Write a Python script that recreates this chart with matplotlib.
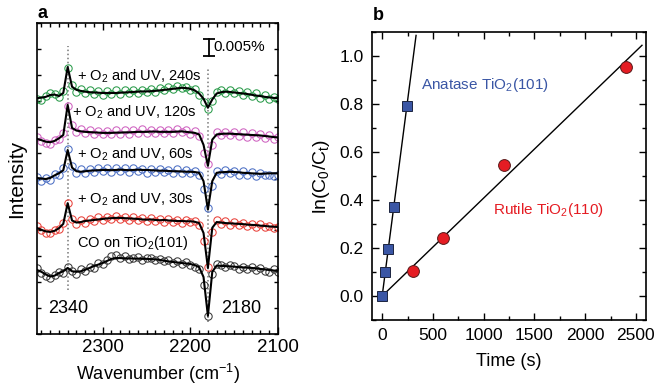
import numpy as np
import matplotlib
matplotlib.use('Agg')
import matplotlib.pyplot as plt
from matplotlib.ticker import MultipleLocator

plt.rcParams['font.family'] = ['Liberation Sans', 'DejaVu Sans']
plt.rcParams['mathtext.fontset'] = 'custom'
plt.rcParams['mathtext.rm'] = 'Liberation Sans'
plt.rcParams['mathtext.it'] = 'Liberation Sans'

# ---- panel a: IR spectra (offset, arbitrary units) ----
wavenumber = list(range(2375, 2099, -5))

co_fit = [2.47, 2.40, 2.30, 2.22, 2.25, 2.35, 2.42, 2.55, 2.42, 2.40, 2.42, 2.48, 2.55, 2.62,
          2.68, 2.74, 2.82, 2.90, 2.93, 2.93, 2.92, 2.92, 2.91, 2.91, 2.90, 2.90, 2.89, 2.88,
          2.86, 2.83, 2.80, 2.78, 2.76, 2.74, 2.72, 2.70, 2.66, 2.58, 2.20, 0.70, 2.40, 2.64,
          2.63, 2.62, 2.61, 2.60, 2.58, 2.57, 2.56, 2.55, 2.53, 2.51, 2.49, 2.47, 2.45, 2.43]
co_data = [2.55, 2.35, 2.25, 2.15, 2.28, 2.40, 2.35, 2.60, 2.45, 2.32, 2.50, 2.42, 2.60, 2.55,
           2.75, 2.70, 2.86, 3.02, 3.05, 2.95, 3.00, 2.88, 2.95, 2.98, 2.85, 2.95, 2.92, 2.84,
           2.90, 2.80, 2.86, 2.74, 2.80, 2.70, 2.76, 2.66, 2.60, 2.50, 1.90, 0.70, 2.30, 2.70,
           2.66, 2.58, 2.68, 2.62, 2.52, 2.60, 2.50, 2.58, 2.48, 2.55, 2.45, 2.40, 2.50, 2.38]

uv30_fit = [4.09, 4.02, 3.96, 3.94, 3.98, 4.08, 4.25, 5.05, 4.38, 4.30, 4.32, 4.36, 4.38, 4.40,
            4.42, 4.44, 4.46, 4.47, 4.48, 4.48, 4.47, 4.46, 4.45, 4.44, 4.42, 4.41, 4.42, 4.40,
            4.39, 4.40, 4.38, 4.37, 4.36, 4.36, 4.35, 4.35, 4.33, 4.28, 3.90, 2.55, 4.10, 4.32,
            4.30, 4.28, 4.27, 4.26, 4.25, 4.24, 4.22, 4.21, 4.20, 4.18, 4.17, 4.15, 4.14, 4.13]
uv30_data = [4.15, 4.00, 3.90, 3.88, 4.02, 4.05, 4.30, 5.05, 4.45, 4.25, 4.38, 4.30, 4.45, 4.35,
             4.50, 4.40, 4.52, 4.44, 4.55, 4.45, 4.52, 4.40, 4.50, 4.38, 4.48, 4.36, 4.47, 4.35,
             4.44, 4.34, 4.42, 4.32, 4.40, 4.30, 4.38, 4.32, 4.36, 4.22, 3.60, 2.60, 3.95, 4.38,
             4.25, 4.35, 4.22, 4.32, 4.20, 4.30, 4.18, 4.26, 4.14, 4.24, 4.12, 4.18, 4.08, 4.12]

uv60_fit = [6.02, 6.00, 5.98, 6.02, 6.12, 6.20, 6.32, 7.10, 6.42, 6.28, 6.26, 6.28, 6.30, 6.31,
            6.32, 6.33, 6.33, 6.32, 6.33, 6.34, 6.33, 6.32, 6.33, 6.34, 6.33, 6.33, 6.32, 6.31,
            6.30, 6.30, 6.29, 6.28, 6.28, 6.27, 6.26, 6.26, 6.25, 6.22, 5.90, 4.80, 5.90, 6.22,
            6.24, 6.25, 6.26, 6.25, 6.24, 6.22, 6.21, 6.20, 6.19, 6.18, 6.19, 6.20, 6.20, 6.20]
uv60_data = [6.05, 5.92, 6.02, 5.95, 6.18, 6.15, 6.40, 7.12, 6.50, 6.22, 6.35, 6.20, 6.38, 6.25,
             6.40, 6.28, 6.42, 6.25, 6.40, 6.28, 6.42, 6.24, 6.40, 6.28, 6.38, 6.22, 6.36, 6.25,
             6.38, 6.24, 6.34, 6.20, 6.35, 6.22, 6.32, 6.20, 6.30, 6.15, 5.60, 4.85, 5.70, 6.30,
             6.18, 6.32, 6.20, 6.30, 6.14, 6.28, 6.12, 6.26, 6.10, 6.22, 6.12, 6.15, 6.08, 6.15]

uv120_fit = [7.53, 7.48, 7.42, 7.40, 7.45, 7.55, 7.68, 8.84, 7.95, 7.85, 7.82, 7.80, 7.79, 7.78,
             7.77, 7.76, 7.76, 7.76, 7.77, 7.77, 7.78, 7.78, 7.79, 7.80, 7.80, 7.80, 7.81, 7.81,
             7.80, 7.80, 7.80, 7.80, 7.81, 7.82, 7.80, 7.78, 7.76, 7.70, 7.30, 6.49, 7.50, 7.70,
             7.72, 7.73, 7.73, 7.72, 7.71, 7.70, 7.69, 7.68, 7.67, 7.66, 7.64, 7.62, 7.60, 7.58]
uv120_data = [7.60, 7.45, 7.38, 7.35, 7.50, 7.52, 7.75, 8.80, 8.05, 7.80, 7.90, 7.75, 7.88, 7.72,
              7.85, 7.70, 7.84, 7.70, 7.86, 7.72, 7.88, 7.72, 7.86, 7.74, 7.90, 7.74, 7.88, 7.76,
              7.88, 7.74, 7.86, 7.76, 7.90, 7.78, 7.86, 7.72, 7.82, 7.65, 7.00, 6.55, 7.30, 7.78,
              7.66, 7.80, 7.68, 7.80, 7.65, 7.78, 7.62, 7.76, 7.60, 7.72, 7.56, 7.66, 7.52, 7.60]

uv240_fit = [9.10, 9.12, 9.15, 9.22, 9.24, 9.18, 9.30, 10.30, 9.54, 9.42, 9.38, 9.35, 9.33, 9.32,
             9.31, 9.30, 9.30, 9.30, 9.30, 9.31, 9.32, 9.33, 9.34, 9.35, 9.36, 9.36, 9.37, 9.38,
             9.40, 9.42, 9.44, 9.46, 9.48, 9.50, 9.49, 9.46, 9.40, 9.28, 9.08, 8.73, 9.05, 9.28,
             9.33, 9.35, 9.34, 9.32, 9.30, 9.28, 9.26, 9.23, 9.20, 9.18, 9.15, 9.13, 9.11, 9.10]
uv240_data = [9.05, 9.02, 9.20, 9.30, 9.26, 9.15, 9.38, 10.25, 9.62, 9.35, 9.45, 9.28, 9.40, 9.25,
              9.38, 9.24, 9.38, 9.26, 9.40, 9.25, 9.40, 9.28, 9.42, 9.30, 9.42, 9.32, 9.44, 9.35,
              9.48, 9.40, 9.52, 9.45, 9.56, 9.48, 9.52, 9.42, 9.45, 9.22, 8.95, 8.70, 8.98, 9.32,
              9.40, 9.30, 9.42, 9.28, 9.38, 9.22, 9.35, 9.18, 9.30, 9.12, 9.22, 9.06, 9.15, 9.05]

spectra = [
    (co_data, co_fit, '#3a3a3a', 'CO on TiO$_2$(101)', 2329, 3.5),
    (uv30_data, uv30_fit, '#e8413a', '+ O$_2$ and UV, 30s', 2329, 5.2),
    (uv60_data, uv60_fit, '#4c6fc4', '+ O$_2$ and UV, 60s', 2329, 6.95),
    (uv120_data, uv120_fit, '#cf62c0', '+ O$_2$ and UV, 120s', 2335, 8.55),
    (uv240_data, uv240_fit, '#2a9b4a', '+ O$_2$ and UV, 240s', 2329, 9.96),
]
peak_positions = [2340, 2180]

# ---- panel b: kinetics ----
anatase_t = [0, 30, 60, 120, 240]
anatase_ln = [0.0, 0.10, 0.195, 0.37, 0.79]
rutile_t = [0, 300, 600, 1200, 2400]
rutile_ln = [0.0, 0.105, 0.24, 0.545, 0.955]

fig = plt.figure(figsize=(6.56, 3.86), dpi=100)
ax1 = fig.add_axes([0.0564, 0.1347, 0.3674, 0.8057])
ax2 = fig.add_axes([0.5671, 0.171, 0.4177, 0.7461])

for data, fit, col, label, lx, ly in spectra:
    ax1.plot(wavenumber, data, 'o', mfc='none', mec=col, ms=5.3, mew=0.75, zorder=2)
    ax1.plot(wavenumber, fit, '-', color='black', lw=1.5, zorder=3)
    ax1.text(lx, ly, label, fontsize=10.5, va='center', ha='left')

ax1.plot([peak_positions[0]] * 2, [1.7, 11.1], ':', color='#777777', lw=1.1, zorder=1)
ax1.plot([peak_positions[1]] * 2, [0.45, 10.3], ':', color='#777777', lw=1.1, zorder=1)
ax1.text(2362, 1.0, '2340', fontsize=13, va='center', ha='left')
ax1.text(2165, 1.0, '2180', fontsize=13, va='center', ha='left')

# scale bar 0.005%
ax1.plot([2179, 2179], [10.73, 11.39], '-', color='black', lw=1.3, marker='_', ms=8, mew=1.3)
ax1.text(2174, 11.08, '0.005%', fontsize=11, va='center', ha='left')

ax1.set_xlim(2375, 2100)
ax1.set_ylim(0, 12)
ax1.xaxis.set_major_locator(MultipleLocator(100))
ax1.xaxis.set_minor_locator(MultipleLocator(10))
ax1.yaxis.set_major_locator(MultipleLocator(1))
ax1.set_yticklabels([])
ax1.tick_params(which='both', direction='in', top=True, right=True, labelsize=13.5, width=1)
ax1.tick_params(which='major', length=5)
ax1.tick_params(which='minor', length=3)
ax1.tick_params(axis='y', which='major', length=3)
ax1.set_xlabel('Wavenumber (cm$^{-1}$)', fontsize=13, labelpad=4)
ax1.set_ylabel('Intensity', fontsize=15, labelpad=4)
for s in ax1.spines.values():
    s.set_linewidth(1.2)

# fits through origin
t_a = np.array(anatase_t, dtype=float)
y_a = np.array(anatase_ln)
k_a = np.sum(t_a * y_a) / np.sum(t_a ** 2)
t_r = np.array(rutile_t, dtype=float)
y_r = np.array(rutile_ln)
k_r = np.sum(t_r * y_r) / np.sum(t_r ** 2)

xa = np.array([0, 334])
xr = np.array([0, 2560])
ax2.plot(xa, k_a * xa, '-', color='black', lw=1, zorder=2)
ax2.plot(xr, k_r * xr, '-', color='black', lw=1, zorder=2)
ax2.plot(rutile_t[1:], rutile_ln[1:], 'o', color='#e51c23', mec='#5a1a1a', mew=0.7, ms=8.5, zorder=3)
ax2.plot(anatase_t, anatase_ln, 's', color='#3a56a5', mec='#1c2440', mew=0.7, ms=7.3, zorder=4)

ax2.text(383, 0.88, 'Anatase TiO$_2$(101)', color='#3a56a5', fontsize=11, va='center', ha='left')
ax2.text(1088, 0.36, 'Rutile TiO$_2$(110)', color='#e51c23', fontsize=11, va='center', ha='left')

ax2.set_xlim(-100, 2600)
ax2.set_ylim(-0.1, 1.1)
ax2.xaxis.set_major_locator(MultipleLocator(500))
ax2.xaxis.set_minor_locator(MultipleLocator(250))
ax2.yaxis.set_major_locator(MultipleLocator(0.2))
ax2.yaxis.set_minor_locator(MultipleLocator(0.1))
ax2.yaxis.set_major_formatter(matplotlib.ticker.FormatStrFormatter('%.1f'))
ax2.tick_params(which='both', direction='in', top=True, right=True, labelsize=12.5, width=1)
ax2.tick_params(which='major', length=5, pad=6)
ax2.tick_params(which='minor', length=3)
ax2.set_xlabel('Time (s)', fontsize=13, labelpad=7)
ax2.set_ylabel('ln(C$_0$/C$_t$)', fontsize=14, labelpad=5)
for s in ax2.spines.values():
    s.set_linewidth(1.2)

fig.text(37 / 656, 1 - 14 / 386, 'a', fontsize=13, fontweight='bold', va='center', ha='left')
fig.text(373 / 656, 1 - 15 / 386, 'b', fontsize=13, fontweight='bold', va='center', ha='left')

fig.savefig('out.png', dpi=100)
